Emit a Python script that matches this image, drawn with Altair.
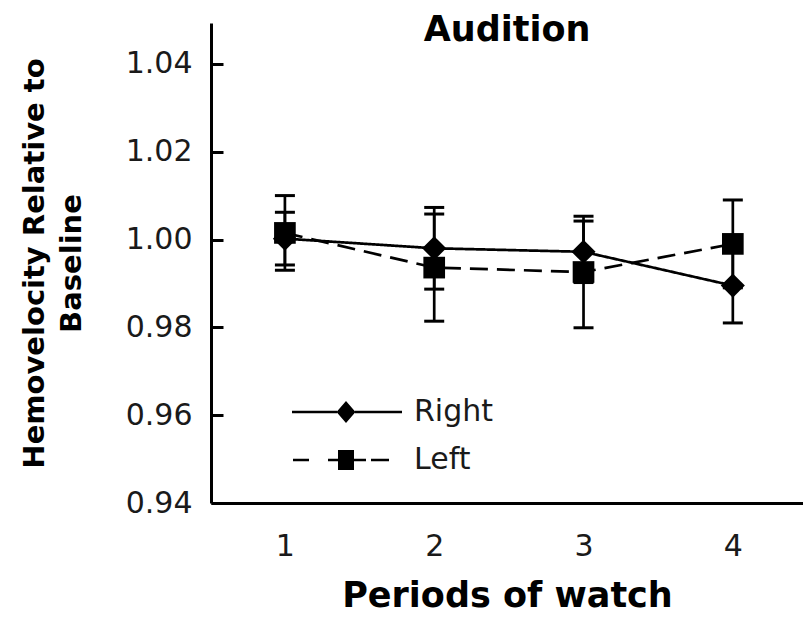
import altair as alt
import pandas as pd

# Mean hemovelocity (relative to baseline) per period of watch, with error half-widths
periods = [1, 2, 3, 4]
right_mean = [1.0002, 0.9980, 0.9972, 0.9895]
right_err = [0.0060, 0.0093, 0.0070, 0.0085]
left_mean = [1.0015, 0.9936, 0.9926, 0.9990]
left_err = [0.0085, 0.0122, 0.0127, 0.0100]

series_names = ["Right", "Left"]
y_tick_values = [0.94, 0.96, 0.98, 1.00, 1.02, 1.04]
x_tick_values = [1, 2, 3, 4]

rows = []
for name, means, errs in [("Right", right_mean, right_err), ("Left", left_mean, left_err)]:
    for p, m, e in zip(periods, means, errs):
        rows.append({"period": p, "series": name, "value": m, "lo": m - e, "hi": m + e})
df = pd.DataFrame(rows)

FONT = "DejaVu Sans"
W, H = 592, 480

# Legend keys: line segment with the marker in the middle (solid / dashed)
RIGHT_KEY = ("M-5.4,-0.13H-0.9V0.13H-5.4Z M0.9,-0.13H5.6V0.13H0.9Z "
             "M-0.95,0L0,-1.1L0.95,0L0,1.1Z")
LEFT_KEY = ("M-5.3,-0.13H-3.7V0.13H-5.3Z M-1.8,-0.13H-0.8V0.13H-1.8Z "
            "M-0.8,-1L0.8,-1L0.8,1L-0.8,1Z M0.8,-0.13H2.0V0.13H0.8Z "
            "M2.5,-0.13H4.3V0.13H2.5Z")

x_scale = alt.Scale(domain=[0.505, 4.47], nice=False, zero=False)
y_scale = alt.Scale(domain=[0.94, 1.0493], nice=False, zero=False)

x_enc = alt.X(
    "period:Q", scale=x_scale,
    axis=alt.Axis(values=x_tick_values, format="d", ticks=False, tickSize=0, grid=False,
                  labelPadding=28, title="Periods of watch", titlePadding=17),
)

base = alt.Chart(df)

lines = base.mark_line(color="black", strokeWidth=2.7).encode(
    x=x_enc,
    y=alt.Y("value:Q", scale=y_scale,
            axis=alt.Axis(values=y_tick_values, format=".2f", ticks=False, tickSize=0,
                          grid=False, labelPadding=19,
                          title=["Hemovelocity Relative to", "Baseline"],
                          titleX=-162, titleY=H / 2, titleLineHeight=37)),
    strokeDash=alt.StrokeDash("series:N",
                              scale=alt.Scale(domain=series_names, range=[[1, 0], [18, 9]]),
                              legend=None),
    detail="series:N",
)

stems = base.mark_rule(color="black", strokeWidth=2.7).encode(
    x=alt.X("period:Q", scale=x_scale),
    y=alt.Y("lo:Q", scale=y_scale,
            axis=alt.Axis(orient="right", offset=-W, domain=False, labels=False,
                          ticks=True, tickSize=12, tickWidth=3, tickColor="black",
                          values=y_tick_values, grid=False, title=None)),
    y2="hi:Q",
)

caps_lo = base.mark_tick(color="black", orient="horizontal", size=20, thickness=3,
                         opacity=1).encode(
    x=alt.X("period:Q", scale=x_scale),
    y=alt.Y("lo:Q", scale=y_scale, axis=None),
)
caps_hi = base.mark_tick(color="black", orient="horizontal", size=20, thickness=3,
                         opacity=1).encode(
    x=alt.X("period:Q", scale=x_scale),
    y=alt.Y("hi:Q", scale=y_scale, axis=None),
)

points = base.mark_point(filled=True, color="black", opacity=1).encode(
    x=alt.X("period:Q", scale=x_scale),
    y=alt.Y("value:Q", scale=y_scale, axis=None),
    shape=alt.Shape("series:N",
                    scale=alt.Scale(domain=series_names, range=["diamond", "square"]),
                    legend=None),
    size=alt.Size("series:N",
                  scale=alt.Scale(domain=series_names, range=[580, 470]),
                  legend=None),
)

legend_layer = base.mark_point(filled=True, color="black", opacity=0).encode(
    x=alt.X("period:Q", scale=x_scale),
    y=alt.Y("value:Q", scale=y_scale, axis=None),
    shape=alt.Shape(
        "series:N",
        scale=alt.Scale(domain=series_names, range=[RIGHT_KEY, LEFT_KEY]),
        legend=alt.Legend(orient="none", legendX=120, legendY=374, title=None,
                          symbolSize=400, symbolFillColor="black", symbolStrokeWidth=0,
                          symbolOpacity=1, labelOffset=53, rowPadding=18, padding=0,
                          labelFont=FONT, labelFontSize=30, labelColor="#1a1a1a",
                          labelLimit=200),
    ),
)

chart = (
    alt.layer(lines, stems, caps_lo, caps_hi, points, legend_layer)
    .resolve_scale(shape="independent")
    .resolve_axis(y="independent")
    .properties(
        width=W, height=H,
        background="white",
        autosize=alt.AutoSizeParams(type="none"),
        padding={"left": 211, "top": 23, "right": 0, "bottom": 116},
        title=alt.TitleParams("Audition", font=FONT, fontSize=35, fontWeight="bold",
                              color="black", anchor="middle", offset=-25),
    )
    .configure_view(stroke=None)
    .configure_axis(
        domainColor="black", domainWidth=3,
        labelFont=FONT, labelFontSize=30, labelColor="#1a1a1a",
        titleFont=FONT, titleFontWeight="bold", titleColor="black",
    )
    .configure_axisX(titleFontSize=35)
    .configure_axisY(titleFontSize=29)
)

chart.save("out.html", embed_options={"renderer": "svg", "actions": False})
